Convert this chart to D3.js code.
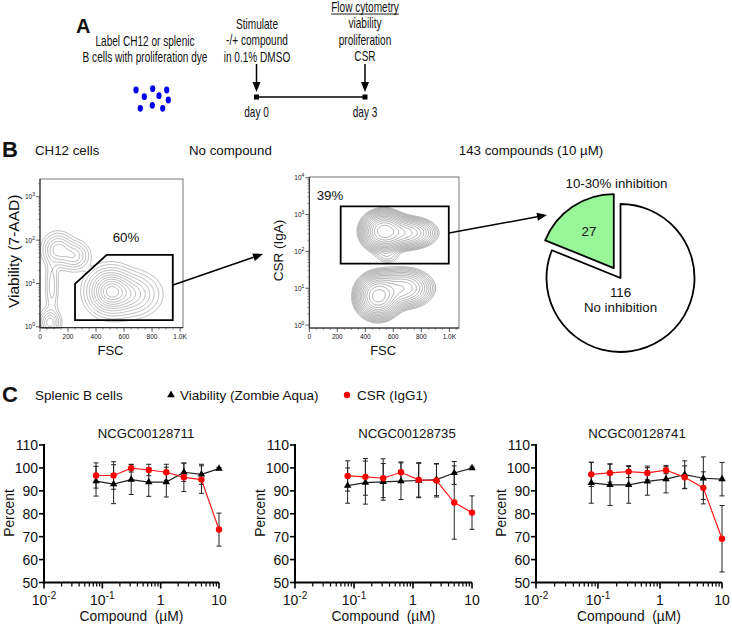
<!DOCTYPE html>
<html>
<head>
<meta charset="utf-8">
<script src="https://cdn.jsdelivr.net/npm/d3@7"></script>
<style>
  body { margin: 0; background: #fff; }
  text { font-family: "Liberation Sans", Arial, sans-serif; fill: #111; }
</style>
</head>
<body>
<svg id="fig" width="732" height="625"></svg>
<script>
// ---- data ----
const stepText = [
  ["Label CH12 or splenic", "B cells with proliferation dye"],
  ["Stimulate", "-/+ compound", "in 0.1% DMSO"],
  ["Flow cytometry", "viability", "proliferation", "CSR"]
];
const dayLabels = ["day 0", "day 3"];

const fscTicks = [0, 200, 400, 600, 800, 1000];
const fscTickLabels = ["0", "200", "400", "600", "800", "1.0K"];
// populations: [FSC centre, log10 centre, FSC spread, log10 spread, weight]
const viabilityPops = [
  [500, 0.82, 80, 0.26, 1.0],
  [650, 0.75, 100, 0.25, 0.45],
  [130, 1.78, 55, 0.19, 0.45],
  [245, 1.64, 55, 0.17, 0.35],
  [85, 0.95, 26, 0.4, 0.15],
  [70, 0.1, 38, 0.15, 0.45]
];
const csrPops = [
  [530, 2.55, 70, 0.24, 1.0],
  [690, 2.5, 100, 0.2, 0.45],
  [490, 0.78, 70, 0.27, 1.0],
  [670, 1.0, 100, 0.25, 0.4],
  [560, 1.85, 60, 0.12, 0.04]
];
const viabilityGate = [[250, 0.99], [476, 1.66], [948, 1.66], [948, 0.155], [250, 0.155]];
const csrGate = [[224, 3.22], [996, 3.22], [996, 1.67], [224, 1.67]];
const gatePct = ["60%", "39%"];

const pieLabels = ["No inhibition", "10-30% inhibition"];
const pieCounts = [116, 27];

const compounds = ["NCGC00128711", "NCGC00128735", "NCGC00128741"];
const doses = [0.078, 0.156, 0.3125, 0.625, 1.25, 2.5, 5, 10];
const viability = [
  [94.2, 92.9, 94.9, 93.8, 93.8, 98.1, 97.2, 99.7],
  [92.3, 93.6, 93.9, 94.2, 94.5, 94.9, 97.8, 99.9],
  [93.5, 92.6, 92.6, 94.1, 95.1, 97.1, 95.5, 95.1]
];
const viabilityErr = [
  [6.5, 8.5, 6.5, 6.2, 6.5, 4.0, 4.4, 0.5],
  [7.7, 9.4, 8.0, 8.0, 7.5, 7.0, 5.0, 0.5],
  [8.9, 9.0, 8.0, 6.0, 6.0, 6.0, 9.3, 7.3]
];
const csr = [
  [96.7, 96.7, 99.9, 99.1, 98.1, 95.9, 94.9, 73.1],
  [96.5, 96.1, 95.5, 98.1, 94.8, 94.5, 84.9, 80.5],
  [97.2, 97.8, 98.4, 97.8, 99.0, 95.9, 91.3, 69.1]
];
const csrErr = [
  [5.5, 6.0, 1.7, 2.5, 3.5, 6.2, 6.0, 7.2],
  [6.6, 8.0, 8.5, 4.5, 7.5, 7.2, 16.0, 7.3],
  [5.3, 4.0, 2.6, 3.0, 1.5, 5.0, 7.0, 14.5]
];
const pctTicks = [50, 60, 70, 80, 90, 100, 110];
const doseTicks = [0.01, 0.1, 1, 10];
const doseTickLabels = [["10", "-2"], ["10", "-1"], ["1", ""], ["10", ""]];
const legendLabels = ["Viability (Zombie Aqua)", "CSR (IgG1)"];

const svg = d3.select("#fig");

function arrow(x1, y1, x2, y2) {
  const a = Math.atan2(y2 - y1, x2 - x1), L = 10, W = 4;
  const bx = x2 - L * Math.cos(a), by = y2 - L * Math.sin(a);
  svg.append("line").attr("x1", x1).attr("y1", y1).attr("x2", bx).attr("y2", by)
    .attr("stroke", "#000").attr("stroke-width", 1.5);
  svg.append("path")
    .attr("d", `M${x2},${y2}L${bx - W * Math.sin(a)},${by + W * Math.cos(a)}L${bx + W * Math.sin(a)},${by - W * Math.cos(a)}Z`)
    .attr("fill", "#000");
}

// ---------- panel A ----------
svg.append("text").attr("x", 76).attr("y", 33).attr("font-size", 20).attr("font-weight", "bold").text("A");

// condensed text: squeeze regular glyphs horizontally
function narrowText(x, y, t) {
  return svg.append("text").attr("transform", `translate(${x},${y}) scale(0.72,1)`)
    .attr("text-anchor", "middle").attr("font-size", 14).text(t);
}
const stepX = [145, 257, 365];
const stepY0 = [46, 29, 12];
stepText.forEach((lines, i) => {
  lines.forEach((t, j) => {
    const tx = narrowText(stepX[i], stepY0[i] + j * 16.3, t);
    if (i === 2 && j === 0) {
      const w = tx.node().getComputedTextLength() * 0.72;
      svg.append("line").attr("x1", stepX[i] - w / 2).attr("x2", stepX[i] + w / 2)
        .attr("y1", 14).attr("y2", 14).attr("stroke", "#000").attr("stroke-width", 0.9);
    }
  });
});
// labelled cells
const cellDots = [[136, 90], [144.3, 96.7], [152.7, 88.7], [159, 95.7], [166.7, 90], [168.3, 100], [140.3, 108.3], [152.3, 105.3], [162.7, 108.3]];
svg.append("g").selectAll("ellipse").data(cellDots).join("ellipse")
  .attr("cx", d => d[0]).attr("cy", d => d[1]).attr("rx", 2.6).attr("ry", 3.4).attr("fill", "#0000ee");
// timeline
const tl = d3.scaleLinear().domain([0, 3]).range([256.5, 365]);
arrow(tl(0), 64, tl(0), 92);
arrow(tl(3), 64, tl(3), 92);
svg.append("line").attr("x1", tl(0)).attr("x2", tl(3)).attr("y1", 97).attr("y2", 97)
  .attr("stroke", "#000").attr("stroke-width", 1.6);
[0, 3].forEach((d, i) => {
  svg.append("rect").attr("x", tl(d) - 2.5).attr("y", 94.5).attr("width", 5).attr("height", 5).attr("fill", "#000");
  narrowText(tl(d), 117, dayLabels[i]);
});

// ---------- panel B ----------
svg.append("text").attr("x", 2).attr("y", 157).attr("font-size", 22).attr("font-weight", "bold").text("B");
svg.append("text").attr("x", 35).attr("y", 155).attr("font-size", 13.3).text("CH12 cells");
svg.append("text").attr("x", 189).attr("y", 155).attr("font-size", 13.3).text("No compound");
svg.append("text").attr("x", 531).attr("y", 155).attr("font-size", 13.3).attr("text-anchor", "middle").text("143 compounds (10 \u00b5M)");

function flowPlot(cfg) {
  const g = svg.append("g");
  const x = d3.scaleLinear().domain(cfg.xDomain).range([cfg.left, cfg.right]);
  const y = d3.scaleLinear().domain(cfg.yDomain).range([cfg.bottom, cfg.top]);
  const nx = Math.round(cfg.right - cfg.left), ny = Math.round(cfg.bottom - cfg.top);
  const vals = new Float64Array(nx * ny);
  for (let j = 0; j < ny; j++) {
    const ly = y.invert(cfg.top + j + 0.5);
    for (let i = 0; i < nx; i++) {
      const fx = x.invert(cfg.left + i + 0.5);
      let s = 0;
      for (const p of cfg.pops) {
        const a = (fx - p[0]) / p[2], b = (ly - p[1]) / p[3];
        s += p[4] * Math.exp(-0.5 * (a * a + b * b));
      }
      vals[j * nx + i] = s;
    }
  }
  const mx = d3.max(vals);
  const cs = d3.contours().size([nx, ny]).thresholds(cfg.levels.map(l => l * mx))(vals);
  g.append("g").attr("transform", `translate(${cfg.left},${cfg.top})`)
    .selectAll("path").data(cs).join("path")
    .attr("d", d3.geoPath()).attr("fill", "none")
    .attr("stroke", cfg.lineColor).attr("stroke-width", 0.6);

  // frame
  g.append("rect").attr("x", cfg.left).attr("y", cfg.top)
    .attr("width", cfg.right - cfg.left).attr("height", cfg.bottom - cfg.top)
    .attr("fill", "none").attr("stroke", "#555").attr("stroke-width", 0.8);

  // y ticks (log)
  const yg = g.append("g");
  for (let n = Math.ceil(cfg.yDomain[0]); n <= cfg.yDomain[1]; n++) {
    yg.append("line").attr("x1", cfg.left - 4).attr("x2", cfg.left).attr("y1", y(n)).attr("y2", y(n)).attr("stroke", "#333").attr("stroke-width", 0.8);
    const t = yg.append("text").attr("x", cfg.left - 5).attr("y", y(n) + 2.5).attr("text-anchor", "end").attr("font-size", 6.5).attr("fill", "#333");
    t.append("tspan").text("10");
    t.append("tspan").attr("dy", -3).attr("font-size", 5).text(n);
    for (let k = 2; k < 10; k++) {
      const v = n + Math.log10(k);
      if (v > cfg.yDomain[1]) break;
      yg.append("line").attr("x1", cfg.left - 2).attr("x2", cfg.left).attr("y1", y(v)).attr("y2", y(v)).attr("stroke", "#555").attr("stroke-width", 0.5);
    }
  }
  // x ticks
  const xg = g.append("g");
  d3.range(0, cfg.xDomain[1], 50).forEach(v => {
    const major = v % 200 === 0;
    xg.append("line").attr("x1", x(v)).attr("x2", x(v)).attr("y1", cfg.bottom).attr("y2", cfg.bottom + (major ? 4 : 2))
      .attr("stroke", "#333").attr("stroke-width", major ? 0.8 : 0.5);
  });
  fscTicks.forEach((v, i) => {
    xg.append("text").attr("x", x(v)).attr("y", cfg.bottom + 11).attr("text-anchor", "middle")
      .attr("font-size", 6.5).attr("fill", "#333").text(fscTickLabels[i]);
  });
  g.append("line").attr("x1", cfg.left).attr("x2", cfg.left).attr("y1", cfg.top).attr("y2", cfg.bottom).attr("stroke", "#222").attr("stroke-width", 1);
  g.append("line").attr("x1", cfg.left).attr("x2", cfg.right).attr("y1", cfg.bottom).attr("y2", cfg.bottom).attr("stroke", "#222").attr("stroke-width", 1);

  // gate
  g.append("path").attr("d", d3.line().x(d => x(d[0])).y(d => y(d[1]))(cfg.gate) + "Z")
    .attr("fill", "none").attr("stroke", "#000").attr("stroke-width", 1.8);
  g.append("text").attr("x", cfg.pctPos[0]).attr("y", cfg.pctPos[1]).attr("text-anchor", "middle").attr("font-size", 13.3).text(cfg.pct);

  // labels
  g.append("text").attr("transform", `translate(${cfg.yLabelX},${(cfg.top + cfg.bottom) / 2 - 2}) rotate(-90)`)
    .attr("text-anchor", "middle").attr("font-size", cfg.yLabelSize).text(cfg.yLabel);
  g.append("text").attr("x", (cfg.left + cfg.right) / 2 - 1).attr("y", cfg.bottom + 27).attr("text-anchor", "middle")
    .attr("font-size", 13).text("FSC");
  return {x, y};
}

flowPlot({
  left: 40, right: 183, top: 179, bottom: 327.7,
  xDomain: [0, 1021], yDomain: [-0.02, 3.41],
  pops: viabilityPops, levels: [0.9, 0.78, 0.66, 0.54, 0.43, 0.33, 0.24, 0.16, 0.1, 0.055, 0.028],
  lineColor: "#8a8a8a", gate: viabilityGate, pct: gatePct[0], pctPos: [126, 242],
  yLabel: "Viability (7-AAD)", yLabelX: 19, yLabelSize: 15.5
});
flowPlot({
  left: 309.3, right: 459, top: 177, bottom: 328,
  xDomain: [0, 1069], yDomain: [-0.08, 4.02],
  pops: csrPops, levels: d3.range(1, 16).map(k => Math.pow(0.78, k)),
  lineColor: "#7a7a7a", gate: csrGate, pct: gatePct[1], pctPos: [330, 200],
  yLabel: "CSR (IgA)", yLabelX: 283, yLabelSize: 13.5
});

arrow(173, 285, 263, 254);
arrow(449, 233, 547, 215);

// pie
const pieC = [620.5, 278], pieR = 74;
const arcs = d3.pie().sort(null)(pieCounts);
const arcGen = d3.arc().innerRadius(0).outerRadius(pieR);
const pieColors = ["#ffffff", "#98f598"];
const pieG = svg.append("g").attr("transform", `translate(${pieC[0]},${pieC[1]})`);
arcs.forEach((a, i) => {
  const mid = (a.startAngle + a.endAngle) / 2;
  const off = i === 1 ? 12 : 0;
  const sg = pieG.append("g").attr("transform", `translate(${off * Math.sin(mid)},${-off * Math.cos(mid)})`);
  sg.append("path").attr("d", arcGen(a)).attr("fill", pieColors[i]).attr("stroke", "#000").attr("stroke-width", 1.8).attr("stroke-linejoin", "round");
  if (i === 1) {
    sg.append("text").attr("x", 0.6 * pieR * Math.sin(mid)).attr("y", -0.6 * pieR * Math.cos(mid) + 5)
      .attr("text-anchor", "middle").attr("font-size", 13.3).text(pieCounts[i]);
  }
});
pieG.append("text").attr("x", 0).attr("y", 19).attr("text-anchor", "middle").attr("font-size", 13.3).text(pieCounts[0]);
pieG.append("text").attr("x", 0).attr("y", 34).attr("text-anchor", "middle").attr("font-size", 13.3).text(pieLabels[0]);
pieG.append("text").attr("x", -4).attr("y", -90).attr("text-anchor", "middle").attr("font-size", 13.3).text(pieLabels[1]);

// ---------- panel C ----------
svg.append("text").attr("x", 2).attr("y", 402).attr("font-size", 22).attr("font-weight", "bold").text("C");
svg.append("text").attr("x", 35).attr("y", 400).attr("font-size", 13.5).text("Splenic B cells");
svg.append("path").attr("d", d3.symbol(d3.symbolTriangle, 26)()).attr("transform", "translate(171,395)").attr("fill", "#000");
svg.append("text").attr("x", 180).attr("y", 400).attr("font-size", 13.5).text(legendLabels[0]);
svg.append("circle").attr("cx", 347).attr("cy", 395).attr("r", 3.2).attr("fill", "#ff0000");
svg.append("text").attr("x", 357).attr("y", 400).attr("font-size", 13.5).text(legendLabels[1]);

const chartLeft = [44, 295, 536], chartRight = [219, 472, 722], titleX = [146, 407, 637];
const y = d3.scaleLinear().domain([50, 110]).range([582.5, 445]);

compounds.forEach((name, c) => {
  const g = svg.append("g");
  const x = d3.scaleLog().domain([0.01, 10]).range([chartLeft[c], chartRight[c]]);
  g.append("text").attr("x", titleX[c]).attr("y", 437.5).attr("text-anchor", "middle").attr("font-size", 13.2).text(name);

  // y axis
  pctTicks.forEach(v => {
    g.append("line").attr("x1", x(0.01) - 5).attr("x2", x(0.01)).attr("y1", y(v)).attr("y2", y(v)).attr("stroke", "#000").attr("stroke-width", 1.6);
    g.append("text").attr("x", x(0.01) - 6).attr("y", y(v) + 5).attr("text-anchor", "end").attr("font-size", 14).text(v);
  });
  // x axis ticks
  for (let n = -2; n <= 0; n++) {
    for (let k = 2; k < 10; k++) {
      const v = k * Math.pow(10, n);
      g.append("line").attr("x1", x(v)).attr("x2", x(v)).attr("y1", y(50)).attr("y2", y(50) + 4).attr("stroke", "#000").attr("stroke-width", 1.2);
    }
  }
  doseTicks.forEach((v, i) => {
    g.append("line").attr("x1", x(v)).attr("x2", x(v)).attr("y1", y(50)).attr("y2", y(50) + 6).attr("stroke", "#000").attr("stroke-width", 1.6);
    const t = g.append("text").attr("x", x(v)).attr("y", 605).attr("text-anchor", "middle").attr("font-size", 14);
    t.append("tspan").text(doseTickLabels[i][0]);
    if (doseTickLabels[i][1]) t.append("tspan").attr("dy", -6).attr("font-size", 10).text(doseTickLabels[i][1]);
  });
  g.append("line").attr("x1", x(0.01)).attr("x2", x(0.01)).attr("y1", y(110) - 1).attr("y2", y(50) + 1).attr("stroke", "#000").attr("stroke-width", 2);
  g.append("line").attr("x1", x(0.01) - 1).attr("x2", x(10)).attr("y1", y(50)).attr("y2", y(50)).attr("stroke", "#000").attr("stroke-width", 2);

  g.append("text").attr("transform", `translate(${x(0.01) - 30},513) rotate(-90)`).attr("text-anchor", "middle").attr("font-size", 13.8).text("Percent");
  g.append("text").attr("x", (chartLeft[c] + chartRight[c]) / 2).attr("y", 621).attr("text-anchor", "middle").attr("font-size", 13.8)
    .text("Compound  (\u00b5M)").attr("xml:space", "preserve");

  // error bars
  const series = [[viability[c], viabilityErr[c]], [csr[c], csrErr[c]]];
  series.forEach(([vals, errs]) => {
    doses.forEach((d, i) => {
      const xx = x(d), lo = y(vals[i] - errs[i]), hi = y(vals[i] + errs[i]);
      g.append("line").attr("x1", xx).attr("x2", xx).attr("y1", lo).attr("y2", hi).attr("stroke", "#222").attr("stroke-width", 1);
      [lo, hi].forEach(yy => g.append("line").attr("x1", xx - 2.5).attr("x2", xx + 2.5).attr("y1", yy).attr("y2", yy).attr("stroke", "#222").attr("stroke-width", 1));
    });
  });
  const line = d3.line().x((v, i) => x(doses[i])).y(v => y(v));
  g.append("path").attr("d", line(viability[c])).attr("fill", "none").attr("stroke", "#222").attr("stroke-width", 1.2);
  g.selectAll(".tri").data(viability[c]).join("path")
    .attr("d", d3.symbol(d3.symbolTriangle, 24)())
    .attr("transform", (v, i) => `translate(${x(doses[i])},${y(v)})`).attr("fill", "#000");
  g.append("path").attr("d", line(csr[c])).attr("fill", "none").attr("stroke", "#ff1a1a").attr("stroke-width", 1.2);
  g.selectAll(".dot").data(csr[c]).join("circle")
    .attr("cx", (v, i) => x(doses[i])).attr("cy", v => y(v)).attr("r", 3.2).attr("fill", "#ff0000");
});
</script>
</body>
</html>
